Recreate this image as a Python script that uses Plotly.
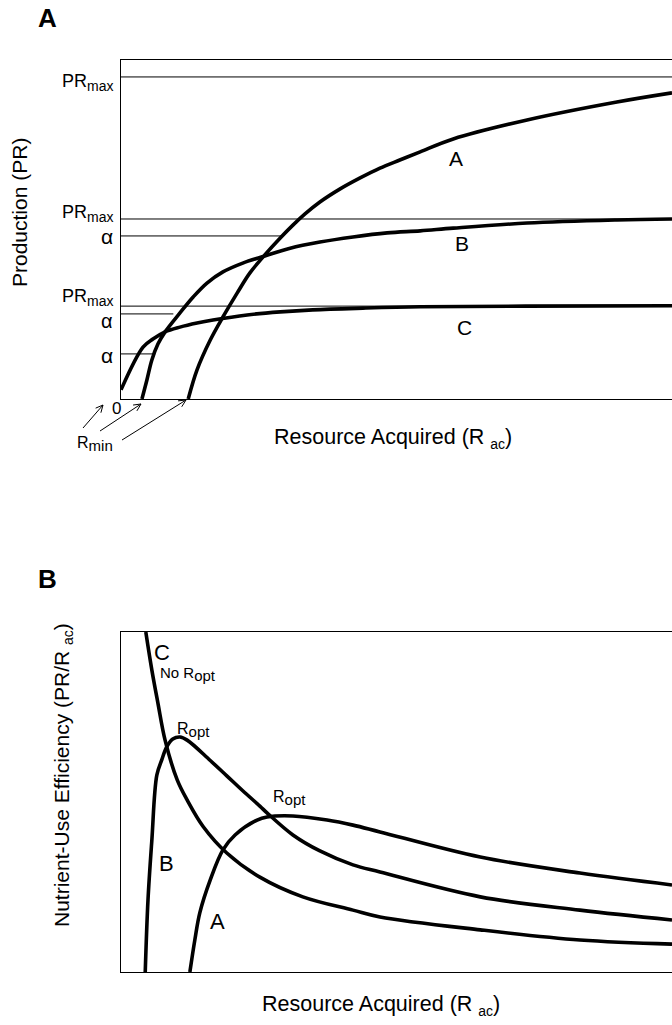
import math
import plotly.graph_objects as go

W, H = 672, 1025
FONT = "Liberation Sans, Arial, Helvetica, sans-serif"

# ---- Panel A: production vs. resource acquired ----
res_A = [1.22, 1.38, 1.62, 1.85, 2.11, 2.34, 2.61, 2.89, 3.12, 3.34, 3.61, 3.97, 4.34, 4.70, 5.06, 5.43, 6.03, 7.37, 9.00, 10.0]
prod_A = [0.0, 0.86, 1.74, 2.42, 3.13, 3.72, 4.25, 4.75, 5.13, 5.46, 5.81, 6.19, 6.52, 6.81, 7.05, 7.29, 7.67, 8.23, 8.76, 9.03]

res_B = [0.38, 0.47, 0.56, 0.67, 0.80, 1.07, 1.31, 1.56, 1.85, 2.21, 2.61, 3.07, 3.61, 4.21, 4.83, 5.43, 6.03, 7.37, 9.00, 10.0]
prod_B = [0.0, 0.56, 1.15, 1.62, 1.98, 2.54, 3.01, 3.42, 3.75, 4.01, 4.22, 4.45, 4.63, 4.78, 4.90, 4.96, 5.04, 5.19, 5.28, 5.31]

res_C = [0.0, 0.40, 0.58, 0.80, 1.07, 1.38, 1.67, 2.29, 2.89, 3.48, 4.39, 5.43, 7.37, 10.0]
prod_C = [0.27, 1.53, 1.77, 1.98, 2.12, 2.24, 2.33, 2.48, 2.57, 2.63, 2.68, 2.72, 2.74, 2.75]

pr_max_levels = [9.50, 5.31, 2.74]
alpha_levels = [4.81, 2.51, 1.33]
alpha_ends = [2.92, 0.95, 0.62]

# ---- Panel B: nutrient-use efficiency vs. resource acquired ----
eff_res_A = [1.25, 1.34, 1.43, 1.62, 1.85, 2.07, 2.47, 2.65, 3.12, 3.74, 4.21, 4.70, 6.52, 8.33, 10.0]
eff_A = [0.0, 0.94, 1.74, 2.71, 3.59, 4.03, 4.47, 4.56, 4.59, 4.47, 4.32, 4.12, 3.38, 2.91, 2.56]

eff_res_B = [0.44, 0.49, 0.56, 0.65, 0.74, 0.83, 0.94, 1.07, 1.20, 1.62, 1.92, 2.21, 2.52, 2.65, 3.12, 3.61, 4.21, 4.70, 6.52, 8.33, 10.0]
eff_B = [0.0, 2.12, 3.88, 5.79, 6.24, 6.62, 6.85, 6.91, 6.82, 6.22, 5.77, 5.33, 4.88, 4.68, 4.03, 3.56, 3.15, 2.94, 2.21, 1.82, 1.53]

eff_res_C = [0.45, 0.56, 0.67, 0.80, 1.02, 1.20, 1.49, 1.92, 2.52, 3.30, 4.21, 4.70, 6.52, 8.33, 10.0]
eff_C = [10.0, 8.88, 7.91, 6.82, 5.65, 5.06, 4.28, 3.50, 2.79, 2.21, 1.82, 1.62, 1.24, 0.94, 0.82]

CURVE = dict(color="black", width=3.6, shape="spline", smoothing=1.0)
THIN = dict(color="black", width=1)

fig = go.Figure()

for xs, ys in [(res_A, prod_A), (res_B, prod_B), (res_C, prod_C)]:
    fig.add_trace(go.Scatter(x=xs, y=ys, mode="lines", line=CURVE, xaxis="x", yaxis="y",
                             hoverinfo="skip", showlegend=False))

for lvl in pr_max_levels:
    fig.add_trace(go.Scatter(x=[0, 10], y=[lvl, lvl], mode="lines", line=THIN, xaxis="x", yaxis="y",
                             hoverinfo="skip", showlegend=False))
for lvl, end in zip(alpha_levels, alpha_ends):
    fig.add_trace(go.Scatter(x=[0, end], y=[lvl, lvl], mode="lines", line=THIN, xaxis="x", yaxis="y",
                             hoverinfo="skip", showlegend=False))

for xs, ys in [(eff_res_A, eff_A), (eff_res_B, eff_B), (eff_res_C, eff_C)]:
    fig.add_trace(go.Scatter(x=xs, y=ys, mode="lines", line=CURVE, xaxis="x2", yaxis="y2",
                             hoverinfo="skip", showlegend=False))


def px(x):
    return x / W


def py(y):
    return 1 - y / H


def sub(text, size):
    return f'<sub><span style="font-size:{size}px">{text}</span></sub>'


annotations = []
shapes = []


def label(text, x, y, size=16, xanchor="center", yanchor="middle", bold=False, angle=0):
    annotations.append(dict(
        text=f"<b>{text}</b>" if bold else text,
        x=px(x), y=py(y), xref="paper", yref="paper",
        xanchor=xanchor, yanchor=yanchor, showarrow=False, textangle=angle,
        borderpad=0,
        font=dict(family=FONT, size=size, color="black"),
    ))


def arrow(x0, y0, x1, y1, head=8.0, spread=0.45):
    ang = math.atan2(y1 - y0, x1 - x0)
    segs = [(x0, y0, x1, y1)]
    for s in (spread, -spread):
        a = ang + math.pi + s
        segs.append((x1, y1, x1 + head * math.cos(a), y1 + head * math.sin(a)))
    for a0, b0, a1, b1 in segs:
        shapes.append(dict(type="line", xref="paper", yref="paper",
                           x0=px(a0), y0=py(b0), x1=px(a1), y1=py(b1),
                           line=dict(color="black", width=1)))


# panel letters
label("A", 47, 18, size=26, bold=True)
label("B", 47, 579, size=26, bold=True)

# panel A axis titles
label("Production (PR)", 20, 213, size=21, angle=-90)
label("Resource Acquired (R " + sub("ac", 14) + ")", 393, 439, size=21.5)

# panel A level labels
PRMAX = "PR" + sub("max", 14)
label(PRMAX, 114, 83, size=18, xanchor="right")
label(PRMAX, 114, 214, size=18, xanchor="right")
label(PRMAX, 114, 297, size=18, xanchor="right")
label("α", 114, 237, size=21, xanchor="right")
label("α", 114, 321, size=20, xanchor="right")
label("α", 114, 355, size=21, xanchor="right")

# curve names in panel A
label("A", 456, 158, size=21)
label("B", 462, 243, size=21)
label("C", 464, 327, size=21)

# origin and minimum-resource markers
label("0", 116, 408, size=17)
label("R" + sub("min", 15), 76, 444, size=16, xanchor="left")
arrow(83, 428, 103, 405)
arrow(100, 431, 141, 404)
arrow(122, 440, 186, 400)

# panel B axis titles
label("Nutrient-Use Efficiency (PR/R " + sub("ac", 14) + ")", 63, 775, size=21, angle=-90)
label("Resource Acquired (R " + sub("ac", 14) + ")", 381, 1005, size=21.5)

# panel B curve labels
label("C", 162, 652, size=22)
label("No R" + sub("opt", 15), 159, 674, size=15, xanchor="left")
label("R" + sub("opt", 15), 176, 730, size=16, xanchor="left")
label("R" + sub("opt", 15), 272, 798, size=16, xanchor="left")
label("B", 166, 863, size=22)
label("A", 217, 921, size=22)

AX = dict(showgrid=False, zeroline=False, showticklabels=False, ticks="",
          showline=True, linecolor="black", linewidth=1)

fig.update_layout(
    width=W, height=H,
    margin=dict(l=0, r=0, t=0, b=0),
    paper_bgcolor="white", plot_bgcolor="white",
    showlegend=False,
    xaxis=dict(AX, domain=[px(121), 1], range=[0, 10], anchor="y", mirror=True),
    yaxis=dict(AX, domain=[py(399), py(60)], range=[0, 10], anchor="x", mirror=False),
    xaxis2=dict(AX, domain=[px(121), 1], range=[0, 10], anchor="y2", mirror=True),
    yaxis2=dict(AX, domain=[py(972), py(632)], range=[0, 10], anchor="x2", mirror=False),
    annotations=annotations,
    shapes=shapes,
)

fig.write_html("out.html")
